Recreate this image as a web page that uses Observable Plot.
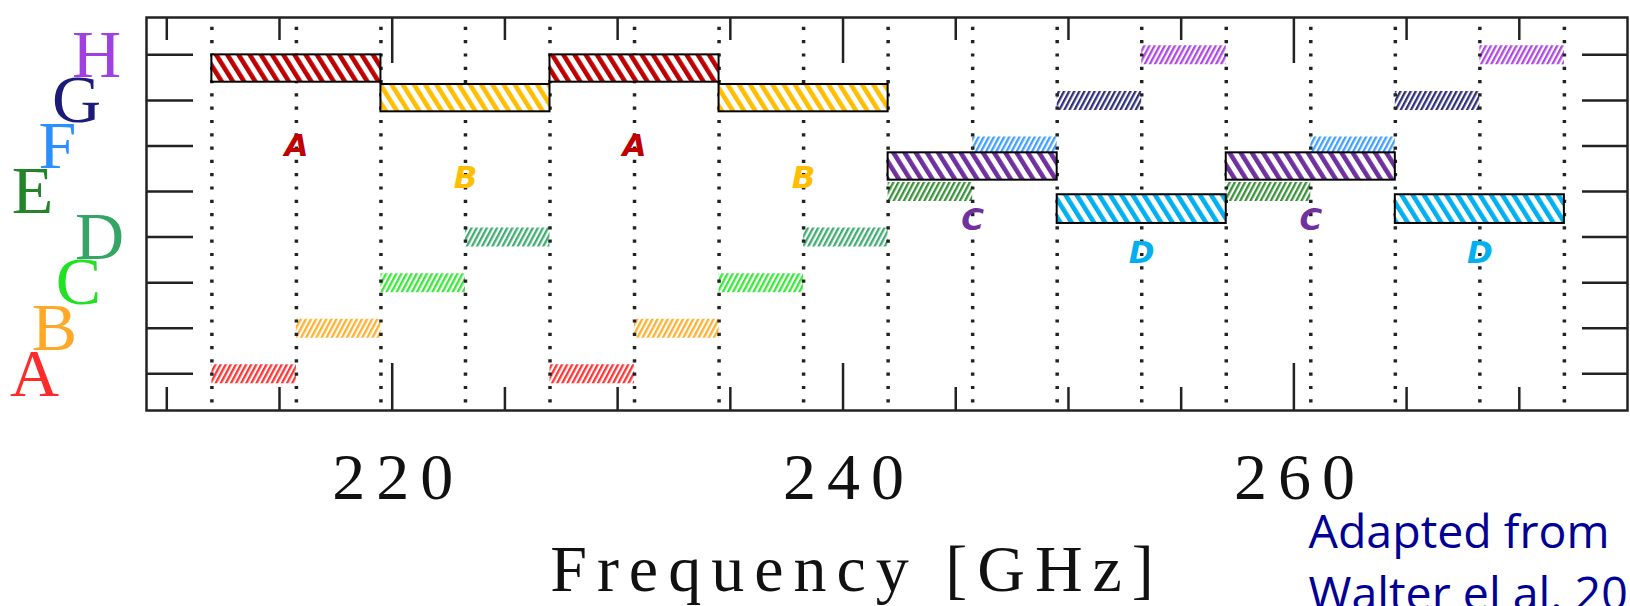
<!DOCTYPE html>
<html><head><meta charset="utf-8">
<script src="https://cdn.jsdelivr.net/npm/d3@7"></script>
<script src="https://cdn.jsdelivr.net/npm/@observablehq/plot@0.6"></script>
<style>html,body{margin:0;padding:0;background:#fff;} #chart svg{display:block;}</style>
</head><body><div id="chart"></div>
<script>
// ---- data ----
const rows = ["A","B","C","D","E","F","G","H"];
const rowLevel = [1, 2, 3, 4, 5, 6, 7, 8];
const lowerStart = [212.0, 215.75, 219.5, 223.25, 242.0, 245.75, 249.5, 253.25];
const lowerEnd   = [215.75, 219.5, 223.25, 227.0, 245.75, 249.5, 253.25, 257.0];
const upperStart = [227.0, 230.75, 234.5, 238.25, 257.0, 260.75, 264.5, 268.25];
const upperEnd   = [230.75, 234.5, 238.25, 242.0, 260.75, 264.5, 268.25, 272.0];

const setups = ["A","B","C","D"];
const setupLowStart  = [212.0, 219.5, 242.0, 249.5];
const setupLowEnd    = [219.5, 227.0, 249.5, 257.0];
const setupHighStart = [227.0, 234.5, 257.0, 264.5];
const setupHighEnd   = [234.5, 242.0, 264.5, 272.0];
const setupBottom = [7.4, 6.75, 5.25, 4.3];
const setupTop    = [8.0, 7.35, 5.85, 4.93];
const setupLabelLevel = [6.0, 5.3, 4.37, 3.64];

const boundaries = [212.0, 215.75, 219.5, 223.25, 227.0, 230.75, 234.5, 238.25, 242.0,
                    245.75, 249.5, 253.25, 257.0, 260.75, 264.5, 268.25, 272.0];
const minorTicks = [210, 215, 225, 230, 235, 245, 250, 255, 265, 270];
const majorTicks = [220, 240, 260];
const xLabel = "Frequency [GHz]";
const caption = "Adapted from\nWalter el al. 2016";

// ---- styles ----
const rowColor = {A:"#ff2a2a", B:"#ffa726", C:"#22e022", D:"#35a565", E:"#24842a", F:"#2a8fff", G:"#1c1c78", H:"#a040e0"};
const windowColor = {A:"#ff3535", B:"#ffb030", C:"#3ae83a", D:"#3fae70", E:"#3a933a", F:"#40a0ff", G:"#30307e", H:"#b048e6"};
const setupColor = {A:"#c00000", B:"#ffbf00", C:"#7030a0", D:"#00b0f0"};
const letterDx = {A:-112, B:-92, C:-68, D:-47, E:-114, F:-89, G:-70, H:-50};

const W = 1630, H = 606, mL = 146, mR = 3, mT = 17, mB = 196;
const frameW = W - mL - mR, frameH = H - mT - mB;
const ink = "#222";
const axisFont = "Liberation Serif";

// ---- tables ----
const windows = rows.flatMap((r, i) => [
  {name: r, level: rowLevel[i], x1: lowerStart[i], x2: lowerEnd[i]},
  {name: r, level: rowLevel[i], x1: upperStart[i], x2: upperEnd[i]}
]);
const bars = setups.flatMap((s, i) => [
  {name: s, x1: setupLowStart[i], x2: setupLowEnd[i], y1: setupBottom[i], y2: setupTop[i], ly: setupLabelLevel[i]},
  {name: s, x1: setupHighStart[i], x2: setupHighEnd[i], y1: setupBottom[i], y2: setupTop[i], ly: setupLabelLevel[i]}
]);
const rowTable = rows.map((r, i) => ({name: r, level: rowLevel[i]}));

const marks = [];
// small sideband windows
for (const r of rows) {
  marks.push(Plot.ruleY(windows.filter(d => d.name === r), {
    y: "level", x1: "x1", x2: "x2", stroke: `url(#sw-${r})`, strokeWidth: 19
  }));
}
// dotted boundaries
marks.push(Plot.ruleX(boundaries, {x: d => d, stroke: ink, strokeWidth: 3.5, strokeDasharray: "3.2,10.1", strokeDashoffset: 3.5}));
// big setups
for (const s of setups) {
  marks.push(Plot.rect(bars.filter(d => d.name === s), {
    x1: "x1", x2: "x2", y1: "y1", y2: "y2", fill: `url(#bw-${s})`, stroke: "#000", strokeWidth: 2
  }));
  marks.push(Plot.text(bars.filter(d => d.name === s), {
    x: d => (d.x1 + d.x2) / 2, y: "ly", text: "name", fill: setupColor[s],
    fontSize: 31, fontWeight: "bold", fontStyle: "italic", fontFamily: "DejaVu Sans"
  }));
}
// frame and ticks
marks.push(Plot.frame({stroke: ink, strokeWidth: 2.5}));
marks.push(Plot.tickY(rowLevel, {y: d => d, stroke: ink, strokeWidth: 2.5, insetRight: frameW - 47}));
marks.push(Plot.tickY(rowLevel, {y: d => d, stroke: ink, strokeWidth: 2.5, insetLeft: frameW - 45}));
marks.push(Plot.tickX(minorTicks, {x: d => d, stroke: ink, strokeWidth: 2.5, insetBottom: frameH - 23}));
marks.push(Plot.tickX(minorTicks, {x: d => d, stroke: ink, strokeWidth: 2.5, insetTop: frameH - 23}));
marks.push(Plot.tickX(majorTicks, {x: d => d, stroke: ink, strokeWidth: 2.5, insetBottom: frameH - 46}));
marks.push(Plot.tickX(majorTicks, {x: d => d, stroke: ink, strokeWidth: 2.5, insetTop: frameH - 47}));
// x tick labels
marks.push(Plot.axisX(majorTicks, {tickSize: 0, tickPadding: 42, dx: 6, fontSize: 66, fontFamily: axisFont, label: null, fill: "#111"}));
// x label
marks.push(Plot.text([xLabel], {frameAnchor: "bottom", lineAnchor: "bottom", dx: -30, dy: 180, fontSize: 66, fontFamily: axisFont, fill: "#111"}));
// legend letters
for (const r of rowTable) {
  marks.push(Plot.text([r], {y: "level", text: "name", frameAnchor: "left", textAnchor: "middle", dx: letterDx[r.name],
    fill: rowColor[r.name], fontSize: 68, fontFamily: "Liberation Serif"}));
}
// caption
marks.push(Plot.text([caption], {frameAnchor: "bottom-right", textAnchor: "start", lineAnchor: "bottom", lineHeight: 1.33,
  dx: -319, dy: 199, fontSize: 46.5, fontFamily: "Open Sans", fill: "#000096"}));

const svg = Plot.plot({
  width: W, height: H,
  marginLeft: mL, marginRight: mR, marginTop: mT, marginBottom: mB,
  x: {domain: [209.1, 274.8], axis: null},
  y: {domain: [0.195, 8.82], axis: null},
  style: {background: "#fff", overflow: "hidden"},
  marks
});

// typewriter-like spacing for the axis texts
const tickStrings = majorTicks.map(String);
d3.select(svg).selectAll("text")
  .filter(function () { return tickStrings.includes(this.textContent); })
  .style("letter-spacing", "11px");
d3.select(svg).selectAll("text")
  .filter(function () { return this.textContent === xLabel; })
  .style("letter-spacing", "10px");

function stripe(id, color, size, width, angle) {
  return `<pattern id="${id}" patternUnits="userSpaceOnUse" width="${size}" height="${size}" patternTransform="rotate(${angle})">` +
    `<rect width="${size}" height="${size}" fill="#fff"/><rect width="${width}" height="${size}" fill="${color}"/></pattern>`;
}
let defs = "<defs>";
for (const r of rows) defs += stripe(`sw-${r}`, windowColor[r], 4.5, 2.3, 28);
for (const s of setups) defs += stripe(`bw-${s}`, setupColor[s], 9.5, 4.6, -32);
defs += "</defs>";
svg.insertAdjacentHTML("afterbegin", defs);
document.getElementById("chart").appendChild(svg);
</script>
</body></html>
